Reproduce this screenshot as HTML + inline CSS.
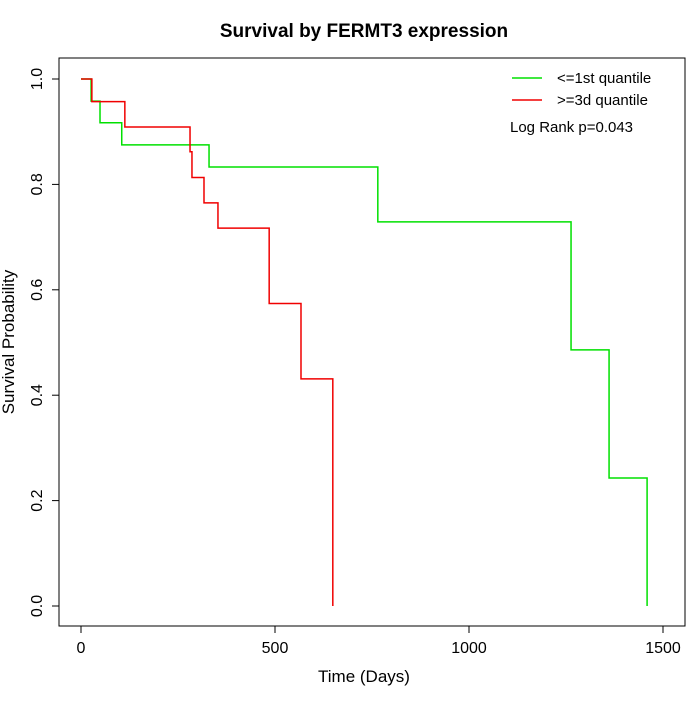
<!DOCTYPE html>
<html><head><meta charset="utf-8"><style>
body{margin:0;background:#fff}
svg{font-family:"Liberation Sans",Arial,sans-serif}
</style></head><body>
<svg id="chart" width="700" height="700">
<rect width="700" height="700" fill="#fff"/>
<text x="364" y="37" text-anchor="middle" font-size="19" font-weight="bold">Survival by FERMT3 expression</text>
<rect x="59" y="58" width="626" height="568" fill="none" stroke="#000"/>
<text x="364" y="682" text-anchor="middle" font-size="17">Time (Days)</text>
<text transform="translate(14,342) rotate(-90)" text-anchor="middle" font-size="17">Survival Probability</text>
<g id="axes"></g>
<g id="series"></g>
<g>
<line x1="512" y1="78" x2="542" y2="78" stroke="#00e000" stroke-width="1.5"/>
<text x="557" y="83" font-size="15">&lt;=1st quantile</text>
<line x1="512" y1="100" x2="542" y2="100" stroke="#f00000" stroke-width="1.5"/>
<text x="557" y="105" font-size="15">&gt;=3d quantile</text>
<text x="510" y="132" font-size="15">Log Rank p=0.043</text>
</g>
</svg>
<script>
const xTicks=[0,500,1000,1500];
const yTicks=[0.0,0.2,0.4,0.6,0.8,1.0];
const lowTimes=[0,26,49,105,330,765,1263,1361,1459];
const lowSurv=[1.0,0.958,0.917,0.875,0.833,0.729,0.486,0.243,0.0];
const highTimes=[0,28,113,281,286,317,353,485,567,649];
const highSurv=[1.0,0.957,0.909,0.862,0.813,0.765,0.717,0.574,0.431,0.0];
const X=d=>81+d*(663-81)/1500;
const Y=v=>606-v*(606-79);
const ns="http://www.w3.org/2000/svg";
const axes=document.getElementById('axes');
function mk(t,a,p){const e=document.createElementNS(ns,t);for(const k in a)e.setAttribute(k,a[k]);p.appendChild(e);return e;}
mk('line',{x1:X(0),x2:X(1500),y1:626,y2:626,stroke:'#000'},axes);
xTicks.forEach(t=>{
 const l=mk('line',{x1:X(t),x2:X(t),y1:626,y2:633,stroke:'#000'},axes);
 
 
 const tx=mk('text',{x:X(t),y:653,'text-anchor':'middle','font-size':16},axes);tx.textContent=t;
 
 
});
mk('line',{x1:59,x2:59,y1:Y(0),y2:Y(1),stroke:'#000'},axes);
yTicks.forEach(t=>{
 const l=mk('line',{x1:52,x2:59,y1:Y(t),y2:Y(t),stroke:'#000'},axes);
 
 
 const tx=mk('text',{x:0,y:0,'text-anchor':'middle','font-size':16,transform:`translate(42,${Y(t)}) rotate(-90)`},axes);tx.textContent=t.toFixed(1);
 
 
});
function steps(ts,ss){let d=`M${X(ts[0])},${Y(ss[0])}`;for(let i=1;i<ts.length;i++){d+=` H${X(ts[i])} V${Y(ss[i])}`;}return d;}
const g=document.getElementById('series');
const p1=mk('path',{d:steps(lowTimes,lowSurv),fill:'none',stroke:'#00e000','stroke-width':1.5},g);


const p2=mk('path',{d:steps(highTimes,highSurv),fill:'none',stroke:'#f00000','stroke-width':1.5},g);


</script>
</body></html>
